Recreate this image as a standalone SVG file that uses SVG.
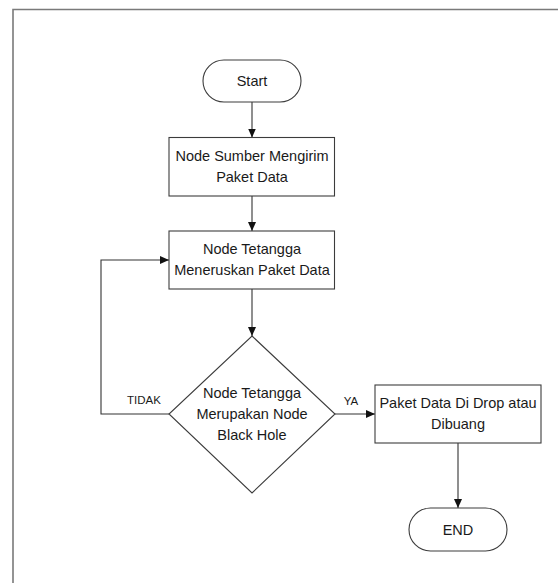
<svg xmlns="http://www.w3.org/2000/svg" width="558" height="583" viewBox="0 0 558 583">
<defs>
<marker id="arr" markerUnits="userSpaceOnUse" markerWidth="9" markerHeight="8" refX="9" refY="4" orient="auto">
<path d="M0,0 L9,4 L0,8 Z" fill="#111"/>
</marker>
</defs>
<style>
.shape{fill:#fff;stroke:#3c3c3c;stroke-width:1.1}
.conn{fill:none;stroke:#333;stroke-width:1.1;marker-end:url(#arr)}
.t{font-family:"Liberation Sans",Arial,sans-serif;font-size:14.5px;fill:#1a1a1a;text-anchor:middle}
.lbl{font-family:"Liberation Sans",Arial,sans-serif;font-size:11.5px;fill:#1a1a1a;text-anchor:middle}
</style>
<rect width="558" height="583" fill="#fff"/>
<path id="frame" d="M13,583 L13,9.5 L558,9.5" fill="none" stroke="#7a7a7a" stroke-width="1.6"/>
<g id="connectors">
<path class="conn" d="M252,102 L252,137.5"/>
<path class="conn" d="M252,196 L252,231"/>
<path class="conn" d="M252,289 L252,336"/>
<path class="conn" d="M169,414 L101,414 L101,260 L169,260"/>
<path class="conn" d="M335,414 L375,414"/>
<path class="conn" d="M458,443 L458,508"/>
<text class="lbl" x="144" y="404">TIDAK</text>
<text class="lbl" x="351" y="405">YA</text>
</g>
<g id="start">
<rect class="shape" x="203" y="60" width="98" height="42" rx="21" ry="21"/>
<text class="t" x="252" y="86">Start</text>
</g>
<g id="kirim">
<rect class="shape" x="169" y="137.5" width="165.5" height="58.5"/>
<text class="t" x="252" y="161">Node Sumber Mengirim</text>
<text class="t" x="252" y="182">Paket Data</text>
</g>
<g id="teruskan">
<rect class="shape" x="169" y="231" width="165.5" height="58"/>
<text class="t" x="252" y="254">Node Tetangga</text>
<text class="t" x="252" y="275">Meneruskan Paket Data</text>
</g>
<g id="decision">
<polygon class="shape" points="252,336 335,414 252,493 169,414"/>
<text class="t" x="252" y="398">Node Tetangga</text>
<text class="t" x="252" y="419">Merupakan Node</text>
<text class="t" x="252" y="440">Black Hole</text>
</g>
<g id="drop">
<rect class="shape" x="375" y="385" width="166" height="58"/>
<text class="t" x="458" y="408">Paket Data Di Drop atau</text>
<text class="t" x="458" y="429">Dibuang</text>
</g>
<g id="end">
<rect class="shape" x="409" y="508" width="98" height="43" rx="21.5" ry="21.5"/>
<text class="t" x="458" y="535">END</text>
</g>
</svg>
